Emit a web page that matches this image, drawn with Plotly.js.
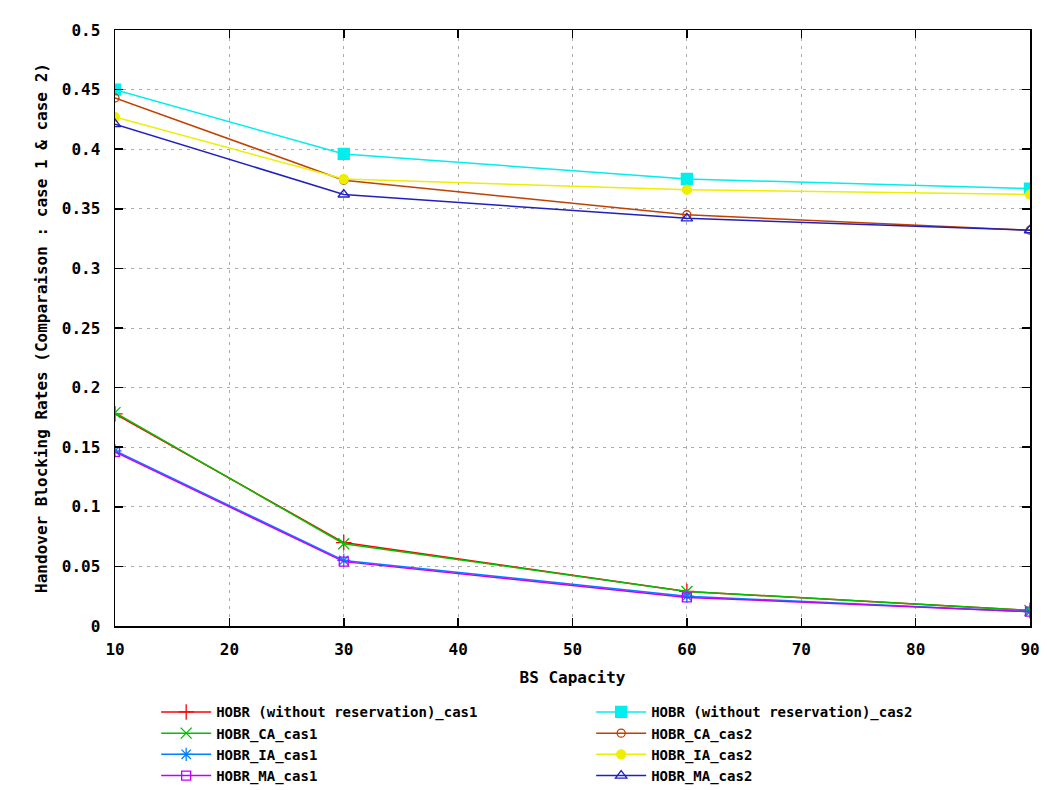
<!DOCTYPE html>
<html>
<head>
<meta charset="utf-8">
<script src="https://cdn.plot.ly/plotly-3.0.1.min.js"></script>
<style>html,body{margin:0;padding:0;background:#fff;}</style>
</head>
<body>
<div id="chart" style="width:1047px;height:790px;"></div>
<script>
const capacity = [10, 30, 60, 90];
const hobrNoRes_cas1 = [0.178, 0.070, 0.029, 0.013];
const hobrCA_cas1    = [0.179, 0.069, 0.029, 0.013];
const hobrIA_cas1    = [0.147, 0.055, 0.025, 0.012];
const hobrMA_cas1    = [0.146, 0.054, 0.024, 0.012];
const hobrNoRes_cas2 = [0.450, 0.396, 0.375, 0.367];
const hobrCA_cas2    = [0.443, 0.374, 0.345, 0.332];
const hobrIA_cas2    = [0.427, 0.375, 0.366, 0.362];
const hobrMA_cas2    = [0.421, 0.362, 0.342, 0.332];
const xTicks = [10, 20, 30, 40, 50, 60, 70, 80, 90];
const yTicks = [0, 0.05, 0.1, 0.15, 0.2, 0.25, 0.3, 0.35, 0.4, 0.45, 0.5];
const yTickText = ['0', '0.05', '0.1', '0.15', '0.2', '0.25', '0.3', '0.35', '0.4', '0.45', '0.5'];

const FONT = 'DejaVu Sans Mono, monospace';

function tr(name, y, color, symbol, size, rank) {
  return {
    x: capacity, y: y, name: name, type: 'scatter', mode: 'lines+markers',
    line: {color: color, width: 1.5},
    marker: {symbol: symbol, size: size, color: color, line: {color: color, width: 1.3}},
    legendrank: rank
  };
}

const data = [
  tr('HOBR (without reservation)_cas1', hobrNoRes_cas1, '#ff0000', 'cross-thin', 11, 1),
  tr('HOBR_CA_cas1', hobrCA_cas1, '#00c000', 'x-thin', 11, 3),
  tr('HOBR_IA_cas1', hobrIA_cas1, '#0080ff', 'asterisk', 11, 5),
  tr('HOBR_MA_cas1', hobrMA_cas1, '#c000ff', 'square-open', 9, 7),
  tr('HOBR (without reservation)_cas2', hobrNoRes_cas2, '#00eeee', 'square', 11, 2),
  tr('HOBR_CA_cas2', hobrCA_cas2, '#c04000', 'circle-open', 8, 4),
  tr('HOBR_IA_cas2', hobrIA_cas2, '#eeee00', 'circle', 9, 6),
  tr('HOBR_MA_cas2', hobrMA_cas2, '#2020c0', 'triangle-up-open', 10, 8)
];

const axisCommon = {
  showline: true, linecolor: '#000', linewidth: 1.5, mirror: 'allticks',
  ticks: 'inside', ticklen: 8, tickcolor: '#000', tickwidth: 1.5,
  showgrid: true, gridcolor: '#aaaaaa', gridwidth: 1, griddash: '3px,5px',
  zeroline: false,
  tickfont: {family: FONT, size: 16, color: '#000', weight: 'bold'}
};

const layout = {
  width: 1047, height: 790,
  paper_bgcolor: '#fff', plot_bgcolor: '#fff',
  margin: {l: 115, r: 17, t: 30, b: 164, autoexpand: false},
  font: {family: FONT, size: 16, color: '#000', weight: 'bold'},
  xaxis: Object.assign({}, axisCommon, {
    range: [10, 90], tickvals: xTicks, ticklabelstandoff: 8,
    title: {text: 'BS Capacity', standoff: 14, font: {family: FONT, size: 16, weight: 'bold', color: '#000'}}
  }),
  yaxis: Object.assign({}, axisCommon, {
    range: [0, 0.5], tickvals: yTicks, ticktext: yTickText, ticklabelstandoff: 10,
    title: {text: 'Handover Blocking Rates (Comparaison : case 1 & case 2)', standoff: 10, font: {family: FONT, size: 16, weight: 'bold', color: '#000'}}
  }),
  showlegend: true,
  legend: {
    orientation: 'h', x: 0.045, xanchor: 'left', y: -0.118, yanchor: 'top',
    entrywidth: 370, entrywidthmode: 'pixels', tracegroupgap: 0,
    itemwidth: 50,
    font: {family: FONT, size: 14, color: '#000', weight: 'bold'},
    bgcolor: 'rgba(0,0,0,0)'
  }
};

Plotly.newPlot('chart', data, layout, {displayModeBar: false, staticPlot: true});
</script>
</body>
</html>
